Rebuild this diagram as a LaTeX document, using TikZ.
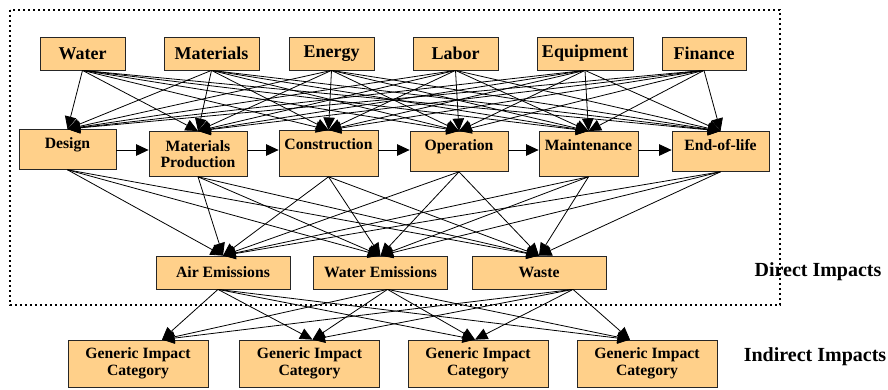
\documentclass[tikz,border=0pt]{standalone}
\usepackage{fontspec}
\setmainfont{Liberation Serif}
\usepackage{tikz}
\usetikzlibrary{arrows.meta, positioning}
\definecolor{boxorange}{RGB}{255,208,138}
\tikzset{box/.style={draw=black!85, fill=boxorange, line width=0.8pt, inner sep=0pt},
         resource/.style={box, minimum height=33pt, font=\bfseries\fontsize{18}{20}\selectfont},
         stage/.style={box, font=\bfseries\fontsize{15.7}{16.5}\selectfont},
         toptext/.style={inner ysep=4pt, text height=15pt, text depth=#1},
         impact/.style={box, minimum height=33pt, minimum width=134pt, font=\bfseries\fontsize{15.7}{17}\selectfont},
         generic/.style={box, minimum height=47pt, minimum width=140pt, align=center, font=\bfseries\fontsize{15.7}{16.5}\selectfont},
         flow/.style={line width=0.8pt, -{Triangle[length=12.5pt,width=11.5pt]}},
         frame/.style={line width=1.6pt, dash pattern=on 1.6pt off 3.4pt},
         tag/.style={font=\bfseries\fontsize{20}{22}\selectfont}}
\begin{document}
\begin{tikzpicture}[x=1pt, y=-1pt]
                      \useasboundingbox (0,0) rectangle (888,389);
                      % resources
                      \node[resource, minimum width=85pt](water)at (82.5,53.5){Water};
                      \node[resource, minimum width=95pt](materials)at (211.5,53.5){Materials};
                      \node[resource, minimum width=85pt](energy)at (331.5,53.5){Energy};
                      \node[resource, minimum width=85pt](labor)at (455.5,53.5){Labor};
                      \node[resource, minimum width=96pt](equipment)at (585,53.5){Equipment};
                      \node[resource, minimum width=84pt](finance)at (704,53.5){Finance};
                      % life cycle stages
                      \node[stage, toptext=17pt, minimum width=97pt, anchor=north](design)at (67.5,129){Design};
                      \node[stage, align=center, minimum width=98pt, minimum height=45pt, anchor=north](matprod)at (198,131){Materials\\Production};
                      \node[stage, toptext=23pt, minimum width=99pt, anchor=north](construction)at (328.5,130){Construction};
                      \node[stage, toptext=17pt, minimum width=98pt, anchor=north](operation)at (459,131){Operation};
                      \node[stage, toptext=22pt, minimum width=99pt, anchor=north](maintenance)at (588.5,131){Maintenance};
                      \node[stage, toptext=17pt, minimum width=97pt, anchor=north](endoflife)at (720.5,131){End-of-life};
                      \coordinate(midline)at (0,150);
                      % direct impacts
                      \node[impact](air)at (223,272.5){Air Emissions};
                      \node[impact](wateremis)at (380.5,272.5){Water Emissions};
                      \node[impact](waste)at (539,272.5){Waste};
                      % indirect impacts
                      \node[generic](gic1)at (138,363.5){Generic Impact\\Category};
                      \node[generic](gic2)at (309.5,363.5){Generic Impact\\Category};
                      \node[generic](gic3)at (478,363.5){Generic Impact\\Category};
                      \node[generic](gic4)at (647,363.5){Generic Impact\\Category};
                      \node[tag](direct)at (818,272){Direct Impacts};
                      \node[tag](indirect)at (815,357){Indirect Impacts};
                      \draw[frame](10,10) rectangle (780,305);
                      
                      \foreach \s in {water,materials,energy,labor,equipment,finance}
                        \foreach \t in {design,matprod,construction,operation,maintenance,endoflife}
                          \draw[flow](\s.south)--(\t.north);
                      \draw[flow](design.east |- midline)--(matprod.west |- midline);
                      \draw[flow](matprod.east |- midline)--(construction.west |- midline);
                      \draw[flow](construction.east |- midline)--(operation.west |- midline);
                      \draw[flow](operation.east |- midline)--(maintenance.west |- midline);
                      \draw[flow](maintenance.east |- midline)--(endoflife.west |- midline);
                      \foreach \s in {design,matprod,construction,operation,maintenance,endoflife}
                        \foreach \t in {air,wateremis,waste}
                          \draw[flow](\s.south)--(\t.north);
                      \foreach \s/\sx in {air/-5,wateremis/7,waste/34}
                        \foreach \t/\tx in {gic1/24,gic2/3,gic3/-3,gic4/-17}
                          \draw[flow]([xshift=\sx]\s.south)--([xshift=\tx]\t.north);
             \end{tikzpicture}
\end{document}
